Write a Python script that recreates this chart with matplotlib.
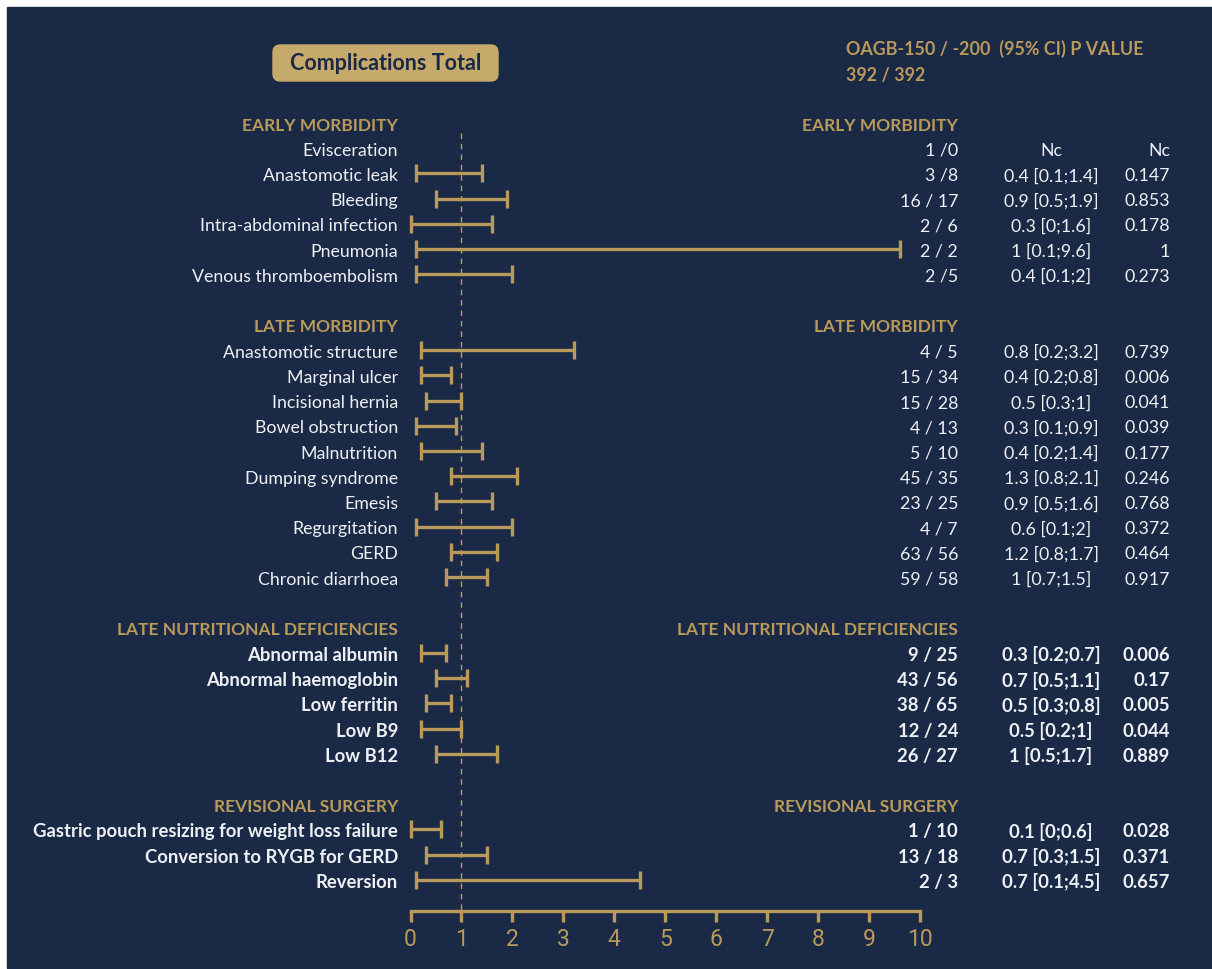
import matplotlib
matplotlib.use("Agg")
import matplotlib.pyplot as plt
from matplotlib.patches import FancyBboxPatch, Rectangle
from matplotlib.transforms import blended_transform_factory

# outcome groups and rows
sections = ["EARLY MORBIDITY", "LATE MORBIDITY",
            "LATE NUTRITIONAL DEFICIENCIES", "REVISIONAL SURGERY"]
section_sizes = [6, 10, 5, 3]
outcomes = [
    "Evisceration", "Anastomotic leak", "Bleeding", "Intra-abdominal infection",
    "Pneumonia", "Venous thromboembolism",
    "Anastomotic structure", "Marginal ulcer", "Incisional hernia",
    "Bowel obstruction", "Malnutrition", "Dumping syndrome", "Emesis",
    "Regurgitation", "GERD", "Chronic diarrhoea",
    "Abnormal albumin", "Abnormal haemoglobin", "Low ferritin", "Low B9",
    "Low B12",
    "Gastric pouch resizing for weight loss failure",
    "Conversion to RYGB for GERD", "Reversion",
]
counts = [
    "1 /0", "3 /8", "16 / 17", "2 / 6", "2 / 2", "2 /5",
    "4 / 5", "15 / 34", "15 / 28", "4 / 13", "5 / 10", "45 / 35", "23 / 25",
    "4 / 7", "63 / 56", "59 / 58",
    "9 / 25", "43 / 56", "38 / 65", "12 / 24", "26 / 27",
    "1 / 10", "13 / 18", "2 / 3",
]
odds_ratio = [None, 0.4, 0.9, 0.3, 1, 0.4,
              0.8, 0.4, 0.5, 0.3, 0.4, 1.3, 0.9, 0.6, 1.2, 1,
              0.3, 0.7, 0.5, 0.5, 1,
              0.1, 0.7, 0.7]
ci_low = [None, 0.1, 0.5, 0, 0.1, 0.1,
          0.2, 0.2, 0.3, 0.1, 0.2, 0.8, 0.5, 0.1, 0.8, 0.7,
          0.2, 0.5, 0.3, 0.2, 0.5,
          0, 0.3, 0.1]
ci_high = [None, 1.4, 1.9, 1.6, 9.6, 2,
           3.2, 0.8, 1, 0.9, 1.4, 2.1, 1.6, 2, 1.7, 1.5,
           0.7, 1.1, 0.8, 1, 1.7,
           0.6, 1.5, 4.5]
p_values = ["Nc", "0.147", "0.853", "0.178", "1", "0.273",
            "0.739", "0.006", "0.041", "0.039", "0.177", "0.246", "0.768",
            "0.372", "0.464", "0.917",
            "0.006", "0.17", "0.005", "0.044", "0.889",
            "0.028", "0.371", "0.657"]
bold_sections = [2, 3]
x_ticks = list(range(0, 11))

NAVY = "#1a2946"
GOLD = "#b99a5a"
BOX = "#c6aa6b"
WHITE = "#eef0f3"
FONT = "Lato"

W, H = 1212, 969
fig = plt.figure(figsize=(W / 100, H / 100), dpi=100, facecolor="white")
fig.patches.append(Rectangle((7 / W, 1 / H), 1 - 7 / W, 1 - 8 / H,
                             transform=fig.transFigure, color=NAVY, zorder=-1))

# forest axes: x 0..10 spans 410..920 px, rows spaced ~25.2 px from y=123
row_h = 25.23
top_px = 123 - row_h
bot_px = 123 + row_h * 32
ax = fig.add_axes([410.5 / W, 1 - bot_px / H, 509.5 / W, (bot_px - top_px) / H])
ax.set_facecolor("none")
ax.set_xlim(0, 10)
ax.set_ylim(32, -1)

trans = blended_transform_factory(fig.transFigure, ax.transData)
dy = 0.1  # text baseline nudge


def fx(px):
    return px / W


def fmt(v):
    return f"{v:g}"


def label(x, y, s, ha, color=WHITE, size=12.6, weight="normal"):
    ax.text(fx(x), y + dy, s, transform=trans, ha=ha, va="center",
            color=color, fontsize=size, fontweight=weight, family=FONT)


row = 0
idx = 0
for s, (title, n) in enumerate(zip(sections, section_sizes)):
    bold = s in bold_sections
    weight = "bold" if bold else "normal"
    size = 13.3 if bold else 12.8
    label(398, row, title, "right", GOLD, 12.5, "bold")
    label(958, row, title, "right", GOLD, 12.5, "bold")
    row += 1
    for k in range(n):
        i = idx + k
        label(398, row, outcomes[i], "right", size=size, weight=weight)
        label(958, row, counts[i], "right", size=size, weight=weight)
        if odds_ratio[i] is None:
            ci_txt = "Nc"
        else:
            ci_txt = f"{fmt(odds_ratio[i])} [{fmt(ci_low[i])};{fmt(ci_high[i])}]"
            ax.errorbar([(ci_low[i] + ci_high[i]) / 2], [row],
                        xerr=[[(ci_high[i] - ci_low[i]) / 2]],
                        fmt="none", ecolor=GOLD, elinewidth=2.4,
                        capsize=6.5, capthick=2.4, clip_on=False)
        label(1051, row, ci_txt, "center", size=size, weight=weight)
        label(1170, row, p_values[i], "right", size=size, weight=weight)
        row += 1
    idx += n
    row += 1

# reference line at OR = 1
axis_y = 31.23
ax.plot([1, 1], [0.4, axis_y], color=GOLD, lw=1, dashes=(4, 3.5))

for side in ["top", "right", "left"]:
    ax.spines[side].set_visible(False)
ax.spines["bottom"].set_position(("data", axis_y))
ax.spines["bottom"].set_bounds(0, 10)
ax.spines["bottom"].set_color(GOLD)
ax.spines["bottom"].set_linewidth(2.4)
ax.set_yticks([])
ax.set_xticks(x_ticks)
ax.tick_params(axis="x", direction="out", length=8, width=2.4, color=GOLD,
               labelcolor=GOLD, labelsize=16.5, pad=4)
for lab in ax.get_xticklabels():
    lab.set_family("Roboto")
    lab.set_fontweight("normal")

# title badge and column header
fig.patches.append(FancyBboxPatch((273 / W, 1 - 81 / H), 225 / W, 36 / H,
                                  boxstyle="round,pad=0,rounding_size=0.006",
                                  transform=fig.transFigure, color=BOX,
                                  mutation_aspect=W / H))
fig.text(385.5 / W, 1 - 64 / H, "Complications Total", ha="center",
         va="center", color=NAVY, fontsize=15.5, fontweight="bold", family=FONT)
fig.text(846 / W, 1 - 49 / H, "OAGB-150 / -200  (95% CI) P VALUE",
         ha="left", va="center", color=GOLD, fontsize=12.9, fontweight="bold",
         family=FONT)
fig.text(846 / W, 1 - 75 / H, "392 / 392", ha="left", va="center",
         color=GOLD, fontsize=12.9, fontweight="bold", family=FONT)

fig.savefig("out.png", dpi=100, facecolor=fig.get_facecolor())
